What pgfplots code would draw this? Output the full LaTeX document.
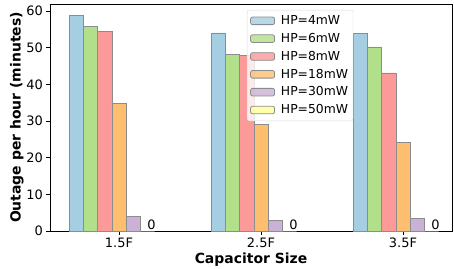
\documentclass[border=0pt]{standalone}
\usepackage{fontspec}
\setmainfont{DejaVu Sans}
\usepackage{pgfplots}
\pgfplotsset{compat=1.18}
\definecolor{cA}{HTML}{A6CEE3}
\definecolor{cB}{HTML}{B2DF8A}
\definecolor{cC}{HTML}{FB9A99}
\definecolor{cD}{HTML}{FDBF6F}
\definecolor{cE}{HTML}{CAB2D6}
\definecolor{cF}{HTML}{FFFF99}
\definecolor{edge}{HTML}{8C8C8C}
\begin{document}
\begin{tikzpicture}
\begin{axis}[
  scale only axis, width=402bp, height=227bp,
  xmin=-0.486, xmax=2.345, ymin=0, ymax=61.9,
  xtick={0,1,2}, xticklabels={1.5F,2.5F,3.5F},
  ytick={0,10,...,60},
  tick align=outside, tick pos=left, major tick length=3.5bp,
  tick style={black, line width=0.8bp},
  axis line style={line width=0.9bp},
  tick label style={font=\fontsize{13}{13}\selectfont},
  /pgf/number format/assume math mode=true,
  xlabel={Capacitor Size}, ylabel={Outage per hour (minutes)},
  label style={font=\fontsize{14}{14}\selectfont\bfseries},
  xlabel style={yshift=2bp},
  ylabel style={yshift=-4bp},
  legend style={at={(0.49,0.974)}, anchor=north west,
    font=\fontsize{12.4}{12.4}\selectfont, draw=black!15, rounded corners=2pt,
    fill opacity=0.8, text opacity=1, draw opacity=1, row sep=3.2bp,
    inner xsep=3bp, inner ysep=3.5bp},
  legend cell align=left,
  legend image code/.code={\draw[#1] (0bp,-3.8bp) rectangle (24bp,3.8bp); \path (28bp,0bp);},
  every axis plot/.append style={draw=edge, line width=0.8bp},
]
\addplot[ybar, bar width=0.1, bar shift=-0.3, fill=cA] coordinates {(0,58.8) (1,54.0) (2,53.8)};
\addlegendentry{HP=4mW}
\addplot[ybar, bar width=0.1, bar shift=-0.2, fill=cB] coordinates {(0,55.9) (1,48.2) (2,50.2)};
\addlegendentry{HP=6mW}
\addplot[ybar, bar width=0.1, bar shift=-0.1, fill=cC] coordinates {(0,54.5) (1,47.8) (2,43.1)};
\addlegendentry{HP=8mW}
\addplot[ybar, bar width=0.1, bar shift=0, fill=cD] coordinates {(0,34.8) (1,29.1) (2,24.1)};
\addlegendentry{HP=18mW}
\addplot[ybar, bar width=0.1, bar shift=0.1, fill=cE] coordinates {(0,3.9) (1,2.9) (2,3.5)};
\addlegendentry{HP=30mW}
\addplot[ybar, bar width=0.1, bar shift=0.2, fill=cF,
  nodes near coords, point meta=explicit symbolic,
  every node near coord/.append style={font=\fontsize{13}{13}\selectfont, anchor=south, inner sep=0pt, yshift=1bp, xshift=32.5bp, text=black}]
  coordinates {(0,0) [0] (1,0) [0] (2,0) [0]};
\addlegendentry{HP=50mW}
\end{axis}
\pgfresetboundingbox
\path (current axis.south west) ++(-50bp,-38bp) coordinate (bbA);
\path (current axis.north east) ++(2bp,4bp) coordinate (bbB);
\path[use as bounding box] (bbA) rectangle (bbB);
\end{tikzpicture}
\end{document}
